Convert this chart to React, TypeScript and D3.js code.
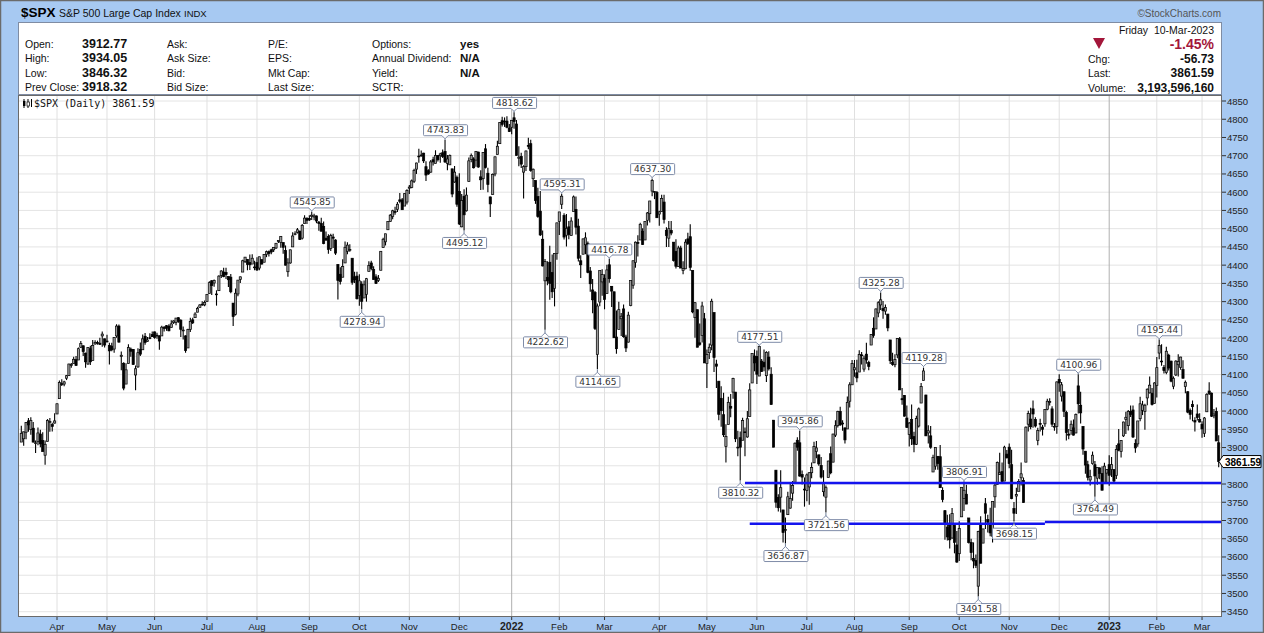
import React from "react";
import * as d3 from "d3";

// ---------------- DATA ----------------
const firstDay = "2021-03-11";
const lastDay = "2023-03-10";
const closedDays = [
  "2021-04-02", "2021-05-31", "2021-07-05", "2021-09-06", "2021-11-25", "2021-12-24",
  "2022-01-17", "2022-02-21", "2022-04-15", "2022-05-30", "2022-06-20", "2022-07-04",
  "2022-09-05", "2022-11-24", "2022-12-26", "2023-01-02", "2023-01-16", "2023-02-20",
];

const opens = [
  3915,3924,3942,3973,3949,3953,3913,3916,3937,3919,3879,3917,3969,3963,3967,
  3992,4034,4075,4074,4090,4097,4125,4130,4141,4140,4175,4179,4159,4129,4171,4139,4184,4188,4186,4206,4198,
  4191,4180,4178,4170,4206,4233,4150,4131,4074,4130,4170,4169,4099,4121,4169,4168,4205,4191,4201,4210,
  4217,4207,4206,4206,4229,4234,4233,4229,4243,4243,4256,4249,4220,4206,4173,4224,4250,4256,4271,4284,4293,4291,
  4300,4322,4357,4351,4321,4330,4372,4381,4380,4369,4367,4296,4265,4321,4361,4381,4410,4416,4407,4403,4395,
  4407,4392,4415,4408,4429,4437,4442,4442,4447,4465,4462,4462,4440,4382,4406,4450,4484,4490,4493,4474,4514,4528,
  4528,4534,4532,4535,4518,4514,4506,4474,4479,4446,4477,4469,4402,4375,4367,4406,4438,4442,4419,4368,4370,
  4317,4348,4310,4320,4383,4406,4388,4368,4358,4386,4448,4464,4497,4520,4533,4547,4553,4579,4579,4562,4573,
  4611,4613,4630,4663,4699,4701,4707,4670,4659,4655,4689,4679,4701,4700,4708,4712,4679,4675,4664,4628,4641,
  4602,4505,4589,4549,4629,4690,4691,4688,4710,4642,4637,4719,4652,4587,4594,4650,4703,4733,4796,4795,4795,4776,
  4778,4804,4787,4693,4698,4655,4670,4728,4733,4637,4632,4588,4548,4471,4357,4366,4408,4380,4336,4432,
  4520,4567,4536,4482,4505,4481,4547,4553,4507,4412,4430,4456,4460,4384,4332,4325,4155,4299,4354,
  4364,4322,4401,4342,4327,4203,4224,4253,4280,4203,4189,4289,4345,4407,4462,4469,4493,4469,4523,4541,4603,4600,4599,
  4540,4547,4573,4495,4474,4495,4463,4438,4396,4447,4385,4390,4472,4478,4385,4256,4278,4187,4207,4253,
  4130,4160,4181,4270,4129,4082,4035,3990,3903,3963,4013,4052,4052,3900,3927,3920,3943,3929,3985,4077,4151,
  4150,4096,4137,4134,4097,4148,4101,3975,3838,3763,3764,3729,3675,3716,3734,3775,3805,3920,3913,3826,3786,
  3782,3792,3831,3858,3889,3880,3851,3779,3764,3818,3883,3860,3934,3960,3999,3965,3954,3951,4027,4072,
  4113,4105,4107,4154,4115,4156,4133,4181,4227,4225,4269,4291,4281,4274,4266,4195,4134,4127,4154,4198,4034,4043,3981,
  3936,3977,3930,3909,3959,4022,4084,4044,3940,3932,3833,3849,3876,3875,3782,3727,3682,3686,3652,3687,3633,
  3609,3710,3760,3772,3707,3640,3596,3590,3520,3690,3638,3746,3703,3689,3657,3765,3799,3826,3834,3808,3882,
  3901,3853,3733,3767,3780,3817,3810,3860,3964,3978,4006,3977,3919,3966,3956,3965,4005,4024,4006,3957,3958,
  4087,4041,4053,3996,3937,3947,3954,3940,4069,4016,3958,3890,3853,3811,3856,3853,3816,3844,3829,3805,3830,
  3853,3840,3840,3823,3910,3889,3932,3977,3960,3999,4003,3911,3910,3979,4002,3999,4036,4050,4049,4021,
  4070,4159,4137,4120,4106,4153,4137,4068,4099,4127,4120,4114,4067,4053,4002,4018,3974,3992,3977,
  3964,3939,3998,4055,4049,3987,3999,3913,
];

const highs = [
  3960,3944,3970,3981,3983,3970,3919,3955,3949,3942,3919,3978,3981,3968,3994,
  4021,4084,4087,4083,4099,4130,4132,4149,4151,4174,4192,4180,4160,4175,4179,4195,4194,4193,4201,4218,4199,
  4209,4187,4187,4202,4238,4237,4163,4134,4131,4183,4174,4170,4125,4172,4188,4210,4214,4203,4213,4218,
  4218,4215,4208,4234,4233,4236,4238,4249,4249,4255,4257,4252,4232,4208,4226,4256,4256,4271,4286,4293,4301,4303,
  4320,4356,4359,4361,4331,4372,4386,4393,4393,4369,4376,4296,4336,4359,4369,4415,4422,4416,4429,4430,4412,
  4422,4423,4416,4430,4440,4440,4445,4449,4461,4468,4480,4462,4454,4419,4443,4490,4493,4502,4495,4513,4537,4531,
  4537,4546,4541,4536,4521,4530,4520,4492,4485,4486,4486,4471,4402,4394,4416,4465,4463,4457,4419,4382,4382,
  4375,4356,4358,4365,4411,4412,4397,4375,4373,4439,4475,4486,4520,4540,4552,4560,4573,4598,4584,4597,4608,
  4620,4635,4664,4681,4719,4714,4708,4685,4663,4688,4697,4715,4702,4708,4717,4744,4702,4703,4664,4672,4646,
  4652,4595,4608,4613,4695,4706,4696,4713,4711,4660,4710,4732,4667,4588,4651,4698,4741,4792,4807,4805,4808,4787,
  4797,4819,4798,4726,4708,4674,4714,4749,4744,4665,4632,4612,4603,4495,4417,4411,4453,4429,4433,4516,
  4546,4595,4542,4540,4521,4531,4591,4588,4527,4427,4473,4490,4465,4395,4362,4329,4295,4385,4389,
  4375,4401,4417,4343,4327,4276,4300,4269,4292,4209,4272,4358,4413,4465,4482,4516,4501,4520,4546,4576,4637,4603,4603,
  4549,4593,4593,4504,4521,4521,4463,4471,4453,4453,4411,4471,4489,4512,4386,4299,4278,4240,4300,4269,
  4169,4185,4308,4270,4141,4082,4068,4050,3964,4039,4047,4091,4052,3946,3944,3982,3955,4000,4076,4158,4169,
  4166,4178,4143,4169,4164,4164,4120,3975,3838,3772,3838,3729,3708,3779,3801,3808,3914,3928,3946,3837,3818,
  3829,3832,3859,3916,3918,3880,3874,3838,3796,3864,3903,3938,3975,4001,4012,3975,3954,4040,4079,4140,
  4140,4141,4167,4162,4152,4187,4138,4211,4257,4281,4301,4325,4302,4292,4266,4195,4160,4156,4200,4203,4063,4044,4015,
  3970,4018,3943,3987,4010,4077,4119,4045,3961,3959,3880,3900,3877,3907,3791,3728,3716,3717,3734,3687,3671,
  3698,3791,3807,3798,3707,3650,3640,3607,3672,3712,3677,3762,3716,3735,3752,3800,3862,3886,3859,3905,3893,
  3911,3894,3751,3790,3814,3859,3818,3958,4001,4009,4029,3983,3954,3979,3962,4005,4034,4035,4013,3967,4081,
  4101,4080,4053,4001,3951,3974,3977,3993,4101,4053,3958,3890,3864,3839,3889,3863,3846,3846,3849,3858,3840,
  3879,3874,3840,3907,3951,3920,3971,3998,4003,4015,4015,3923,3973,4039,4028,4020,4062,4095,4063,4079,
  4148,4196,4183,4126,4176,4157,4138,4095,4139,4156,4149,4139,4084,4054,4007,4029,3983,4018,3994,
  3972,3984,4049,4079,4051,4006,4010,3934,
];

const lows = [
  3915,3905,3923,3943,3935,3914,3885,3906,3901,3889,3853,3917,3943,3944,3966,
  3992,4034,4069,4068,4085,4096,4119,4130,4124,4140,4173,4151,4119,4127,4126,4139,4182,4182,4181,4176,4174,
  4188,4128,4164,4160,4201,4188,4112,4057,4074,4130,4149,4126,4057,4119,4151,4168,4182,4190,4197,4203,
  4198,4198,4168,4206,4218,4220,4219,4229,4239,4235,4242,4203,4196,4160,4173,4217,4239,4256,4271,4284,4289,4287,
  4300,4322,4318,4341,4289,4330,4365,4367,4362,4340,4323,4233,4262,4315,4351,4381,4406,4386,4387,4403,4386,
  4384,4386,4402,4408,4422,4424,4430,4436,4444,4461,4448,4431,4399,4368,4404,4450,4482,4487,4469,4470,4514,4513,
  4521,4524,4523,4515,4494,4493,4457,4466,4431,4439,4447,4428,4306,4347,4367,4406,4430,4437,4346,4351,4306,
  4289,4279,4310,4300,4383,4386,4360,4348,4354,4386,4448,4454,4497,4519,4526,4538,4546,4570,4552,4562,4566,
  4595,4611,4625,4650,4681,4697,4680,4631,4648,4653,4673,4679,4684,4681,4694,4680,4660,4675,4586,4626,4560,
  4510,4504,4495,4547,4629,4682,4665,4670,4667,4606,4607,4665,4600,4532,4594,4644,4703,4733,4780,4779,4775,4765,
  4759,4774,4700,4671,4666,4583,4658,4718,4656,4614,4568,4530,4480,4396,4223,4345,4305,4310,4287,4415,
  4483,4554,4470,4451,4471,4481,4547,4484,4410,4365,4430,4430,4378,4327,4268,4222,4115,4287,4316,
  4279,4322,4352,4285,4200,4157,4224,4206,4201,4162,4188,4287,4335,4393,4424,4469,4455,4469,4509,4517,4589,4581,4530,
  4508,4547,4514,4450,4450,4482,4410,4391,4395,4392,4375,4389,4455,4385,4268,4201,4175,4179,4188,4132,
  4063,4143,4167,4107,4063,3975,3957,3929,3859,3963,3983,4034,3915,3876,3810,3920,3876,3927,3985,4077,4109,
  4074,4096,4107,4109,4080,4111,4017,3901,3735,3725,3722,3640,3637,3716,3732,3754,3805,3891,3820,3799,3738,
  3753,3743,3816,3858,3871,3850,3815,3766,3722,3818,3827,3860,3929,3955,3960,3946,3911,3951,4010,4079,
  4094,4079,4107,4128,4108,4130,4112,4181,4201,4225,4257,4277,4253,4264,4219,4129,4124,4120,4145,4058,4017,3985,3954,
  3903,3907,3887,3907,3955,4022,4084,3932,3911,3897,3838,3839,3839,3790,3750,3647,3645,3623,3650,3610,3584,
  3589,3710,3726,3745,3637,3591,3569,3570,3492,3582,3638,3677,3667,3657,3640,3735,3799,3825,3803,3808,3870,
  3843,3758,3698,3718,3780,3796,3749,3860,3944,3950,3954,3955,3906,3944,3933,3957,4002,4015,3956,3946,3938,
  4053,4026,3984,3919,3923,3935,3933,3939,3993,3966,3880,3828,3810,3796,3853,3765,3798,3813,3783,3805,3801,
  3795,3819,3803,3814,3890,3873,3929,3937,3947,3984,3926,3886,3902,3972,3989,3949,4016,4048,4015,4021,
  4037,4142,4124,4103,4101,4111,4079,4060,4096,4095,4113,4089,4049,3994,3977,3972,3944,3974,3969,
  3927,3929,3998,4044,3984,3980,3918,3846,
];

const closes = [
  3939,3943,3969,3962,3974,3915,3913,3940,3910,3889,3909,3974,3971,3958,3973,
  4020,4078,4074,4080,4097,4129,4128,4142,4125,4171,4185,4163,4135,4174,4135,4180,4188,4187,4183,4211,4181,
  4192,4165,4168,4202,4233,4189,4153,4063,4113,4174,4164,4128,4116,4160,4156,4198,4188,4195,4200,4204,
  4202,4208,4192,4230,4227,4227,4220,4239,4247,4255,4246,4224,4222,4166,4224,4246,4242,4266,4281,4291,4291,4298,
  4320,4352,4344,4358,4320,4370,4384,4369,4374,4360,4327,4259,4323,4359,4368,4412,4422,4402,4401,4419,4395,
  4387,4423,4403,4429,4437,4432,4436,4448,4460,4468,4479,4449,4400,4406,4442,4480,4486,4497,4470,4509,4529,4523,
  4524,4537,4535,4521,4514,4493,4459,4469,4443,4481,4474,4433,4358,4355,4396,4449,4455,4443,4353,4360,4308,
  4357,4301,4346,4363,4399,4391,4361,4350,4364,4438,4471,4486,4520,4537,4549,4545,4567,4575,4552,4596,4605,
  4614,4631,4660,4680,4697,4702,4686,4647,4650,4683,4683,4701,4689,4705,4698,4683,4691,4701,4595,4655,4567,
  4513,4577,4538,4592,4686,4701,4667,4712,4669,4634,4709,4668,4621,4568,4649,4697,4726,4791,4786,4793,4778,4766,
  4797,4794,4701,4696,4677,4670,4713,4726,4660,4663,4577,4533,4483,4398,4410,4357,4350,4327,4432,4516,
  4546,4589,4477,4501,4484,4521,4587,4504,4419,4401,4472,4475,4380,4349,4305,4226,4288,4385,4374,
  4306,4387,4363,4329,4201,4171,4278,4260,4204,4173,4263,4358,4412,4463,4461,4512,4457,4520,4543,4576,4632,4602,4530,
  4546,4583,4525,4481,4500,4488,4413,4397,4447,4392,4391,4463,4459,4394,4272,4297,4175,4183,4288,4132,
  4155,4175,4301,4147,4123,3991,4001,3935,3930,4024,4008,4089,3924,3901,3901,3974,3941,3979,4058,4158,4132,
  4101,4177,4109,4121,4161,4116,4018,3901,3750,3735,3790,3667,3675,3765,3760,3796,3912,3901,3822,3819,3785,
  3825,3831,3845,3903,3899,3855,3819,3801,3790,3863,3831,3937,3960,3999,3962,3967,3921,4024,4072,4130,
  4119,4091,4155,4152,4145,4140,4122,4210,4207,4280,4297,4305,4275,4284,4228,4138,4128,4141,4199,4058,4031,3986,3955,
  3967,3924,3909,3980,4006,4067,4110,3932,3946,3901,3873,3900,3856,3790,3758,3693,3655,3647,3719,3640,3586,
  3678,3791,3783,3745,3640,3612,3589,3577,3670,3583,3677,3720,3695,3666,3752,3797,3859,3831,3807,3901,3872,
  3856,3760,3720,3771,3807,3828,3749,3956,3993,3957,3992,3959,3947,3965,3950,4004,4027,4026,3964,3958,4080,
  4077,4072,3999,3941,3934,3964,3934,3991,4020,3995,3896,3852,3818,3821,3879,3822,3845,3829,3783,3849,3840,
  3824,3853,3808,3895,3893,3919,3970,3983,3999,3991,3929,3899,3973,4020,4017,4016,4060,4071,4018,4077,
  4119,4180,4136,4111,4164,4118,4082,4090,4137,4136,4148,4090,4079,3997,3991,4012,3970,3982,3970,
  3951,3981,4046,4048,3986,3992,3918,3861.59,
];

// labelled highs / lows
const annDates = [
  "2021-09-02", "2021-10-04", "2021-11-22", "2021-12-03", "2022-01-04", "2022-01-24",
  "2022-02-02", "2022-02-24", "2022-03-03", "2022-03-29", "2022-05-20", "2022-06-02",
  "2022-06-17", "2022-06-28", "2022-07-14", "2022-08-16", "2022-09-12", "2022-10-05",
  "2022-10-13", "2022-11-03", "2022-12-13", "2022-12-22", "2023-02-02",
];
const annValues = [
  4545.85, 4278.94, 4743.83, 4495.12, 4818.62, 4222.62,
  4595.31, 4114.65, 4416.78, 4637.30, 3810.32, 4177.51,
  3636.87, 3945.86, 3721.56, 4325.28, 4119.28, 3806.91,
  3491.58, 3698.15, 4100.96, 3764.49, 4195.44,
];
const annSides = [
  "high", "low", "high", "low", "high", "low",
  "high", "low", "high", "high", "low", "high",
  "low", "high", "low", "high", "high", "high",
  "low", "low", "high", "low", "high",
];

// hand-drawn horizontal lines (start date, end date or null = right edge, level)
const lineStarts = ["2022-05-24", "2022-05-26", "2022-11-22"];
const lineEnds: (string | null)[] = [null, "2022-11-22", null];
const lineLevels = [3803, 3691, 3696];

const yTicks = d3.range(3450, 4851, 50);
const monthNames = ["Jan", "Feb", "Mar", "Apr", "May", "Jun", "Jul", "Aug", "Sep", "Oct", "Nov", "Dec"];

const headerLeftLabels = ["Open:", "High:", "Low:", "Prev Close:"];
const headerLeftValues = ["3912.77", "3934.05", "3846.32", "3918.32"];
const headerCol2 = ["Ask:", "Ask Size:", "Bid:", "Bid Size:"];
const headerCol3 = ["P/E:", "EPS:", "Mkt Cap:", "Last Size:"];
const headerCol4 = ["Options:", "Annual Dividend:", "Yield:", "SCTR:"];
const headerCol4Values = ["yes", "N/A", "N/A", ""];
const rightLabels = ["Chg:", "Last:", "Volume:"];
const rightValues = ["-56.73", "3861.59", "3,193,596,160"];

// ---------------- HELPERS ----------------
function tradingDays(start: string, end: string, closed: string[]) {
  const out: string[] = [];
  const set = new Set(closed);
  const d = new Date(start + "T00:00:00Z");
  const e = new Date(end + "T00:00:00Z");
  while (d <= e) {
    const wd = d.getUTCDay();
    const s = d.toISOString().slice(0, 10);
    if (wd !== 0 && wd !== 6 && !set.has(s)) out.push(s);
    d.setUTCDate(d.getUTCDate() + 1);
  }
  return out;
}

const W = 1264;
const H = 633;
const PL = 18;
const PR = 1222;
const PT = 95;
const PB = 617;
const BLUE_BG = "#a7c9f2";
const SANS = "'Liberation Sans', Arial, sans-serif";
const DV = "'DejaVu Sans', Verdana, sans-serif";
const MONO = "'DejaVu Sans Mono', monospace";

export default function App() {
  const dates = tradingDays(firstDay, lastDay, closedDays);
  const n = Math.min(dates.length, opens.length, highs.length, lows.length, closes.length);
  const x = d3.scalePoint<string>().domain(dates).range([21.3, 1218.7]);
  const y = d3.scaleLinear().domain([3450, 4850]).range([611.7, 101]);

  const monthStarts: { date: string; label: string; year: boolean }[] = [];
  for (let i = 1; i < dates.length; i++) {
    if (dates[i].slice(0, 7) !== dates[i - 1].slice(0, 7)) {
      const m = +dates[i].slice(5, 7) - 1;
      monthStarts.push({
        date: dates[i],
        label: m === 0 ? dates[i].slice(0, 4) : monthNames[m],
        year: m === 0,
      });
    }
  }

  const bars = d3.range(n).map((i) => {
    const cx = x(dates[i]) as number;
    const o = opens[i], c = closes[i];
    const hi = Math.max(highs[i], o, c);
    const lo = Math.min(lows[i], o, c);
    const yTop = y(Math.max(o, c));
    const yBot = y(Math.min(o, c));
    const up = c >= o;
    return (
      <g key={i}>
        <line x1={cx} x2={cx} y1={y(hi)} y2={y(lo)} stroke="#000" strokeWidth={1.1} />
        <rect
          x={cx - 1.1}
          width={2.2}
          y={yTop}
          height={Math.max(yBot - yTop, 0.8)}
          fill={up ? "#9a9a9a" : "#000"}
          stroke="#000"
          strokeWidth={0.7}
        />
      </g>
    );
  });

  const lastY = y(closes[closes.length - 1]);

  return (
    <svg
      width={W}
      height={H}
      viewBox={`0 0 ${W} ${H}`}
      style={{ position: "absolute", left: 0, top: 0, display: "block" }}
      xmlns="http://www.w3.org/2000/svg"
    >
      {/* background */}
      <rect x={0} y={0} width={W} height={H} fill={BLUE_BG} />
      <rect x={0.5} y={0.5} width={W - 1} height={H - 1} fill="none" stroke="#6b6b6b" strokeWidth={1.5} />

      {/* title bar */}
      <text x={21} y={17} fontFamily={SANS} fontWeight="bold" fontSize={13.5} fill="#000">$SPX</text>
      <text x={59} y={16.5} fontFamily={SANS} fontSize={10.5} fill="#111">S&amp;P 500 Large Cap Index</text>
      <text x={184} y={16.5} fontFamily={SANS} fontSize={9.5} fill="#111">INDX</text>
      <text x={1221} y={17} textAnchor="end" fontFamily={SANS} fontSize={10} fill="#555">©StockCharts.com</text>

      {/* header panel */}
      <rect x={PL + 0.5} y={22.5} width={PR - PL - 1} height={72} fill="#fff" stroke="#7f8ca3" strokeWidth={1} />
      {headerLeftLabels.map((t, i) => (
        <g key={"hl" + i} fontFamily={SANS} dominantBaseline="central">
          <text x={25} y={43.5 + i * 14.6} fontSize={10.5} fill="#111">{t}</text>
          <text x={82} y={43.5 + i * 14.6} fontSize={12.5} fontWeight="bold" fill="#111">{headerLeftValues[i]}</text>
          <text x={167} y={43.5 + i * 14.6} fontSize={10.5} fill="#111">{headerCol2[i]}</text>
          <text x={268} y={43.5 + i * 14.6} fontSize={10.5} fill="#111">{headerCol3[i]}</text>
          <text x={372} y={43.5 + i * 14.6} fontSize={10.5} fill="#111">{headerCol4[i]}</text>
          <text x={460} y={43.5 + i * 14.6} fontSize={11.5} fontWeight="bold" fill="#111">{headerCol4Values[i]}</text>
        </g>
      ))}
      <text x={1214} y={29.5} textAnchor="end" dominantBaseline="central" fontFamily={SANS} fontSize={10.5} fill="#111" xmlSpace="preserve">
        Friday  10-Mar-2023
      </text>
      <path d="M1093,38 L1105,38 L1099,49 Z" fill="#a3163a" />
      <text x={1214} y={43.5} textAnchor="end" dominantBaseline="central" fontFamily={SANS} fontSize={14} fontWeight="bold" fill="#a3163a">
        -1.45%
      </text>
      {rightLabels.map((t, i) => (
        <g key={"rl" + i} fontFamily={SANS} dominantBaseline="central">
          <text x={1088} y={58.5 + i * 14.6} fontSize={10.5} fill="#111">{t}</text>
          <text x={1214} y={58.5 + i * 14.6} textAnchor="end" fontSize={12} fontWeight="bold" fill="#111">{rightValues[i]}</text>
        </g>
      ))}

      {/* plot area */}
      <rect x={PL} y={PT} width={PR - PL} height={PB - PT} fill="#fff" />
      <g>
        {yTicks.map((v) => (
          <line key={"gy" + v} x1={PL} x2={PR} y1={y(v)} y2={y(v)} stroke="#e4e4e4" strokeWidth={1} />
        ))}
        {monthStarts.map((m) => (
          <line
            key={"gx" + m.date}
            x1={x(m.date)}
            x2={x(m.date)}
            y1={PT}
            y2={PB}
            stroke={m.year ? "#b0b0b0" : "#e0e0e0"}
            strokeWidth={1}
          />
        ))}
      </g>

      {/* legend */}
      <g>
        <line x1={24} x2={24} y1={99} y2={108} stroke="#000" strokeWidth={1} />
        <rect x={23} y={101} width={2.4} height={5} fill="#000" />
        <line x1={28} x2={28} y1={99} y2={108} stroke="#000" strokeWidth={1} />
        <rect x={27} y={102} width={2.4} height={4} fill="#fff" stroke="#000" strokeWidth={0.7} />
        <line x1={31.5} x2={31.5} y1={99} y2={107} stroke="#000" strokeWidth={1} />
        <text x={34} y={103} dominantBaseline="central" fontFamily={MONO} fontSize={10} fill="#111">
          $SPX (Daily) 3861.59
        </text>
      </g>

      {/* candles */}
      <g>{bars}</g>

      {/* horizontal lines */}
      {lineStarts.map((s, i) => {
        const x1 = x(s) as number;
        const e = lineEnds[i];
        const x2 = e ? (x(e) as number) : PR;
        return (
          <line key={"hl" + i} x1={x1} x2={x2} y1={y(lineLevels[i])} y2={y(lineLevels[i])} stroke="#1414ee" strokeWidth={2.6} />
        );
      })}

      {/* annotations */}
      {annDates.map((d, i) => {
        const cx = x(d) as number;
        const py = y(annValues[i]);
        const above = annSides[i] === "high";
        const bw = 44;
        const bh = 11;
        const cy = above ? py - 10 : py + 12;
        const top = cy - bh / 2;
        const bot = cy + bh / 2;
        const edge = above ? bot : top;
        const dir = above ? 1 : -1;
        return (
          <g key={"ann" + i}>
            <line x1={cx} x2={cx} y1={edge} y2={py} stroke="#6f7f99" strokeWidth={1} />
            <rect x={cx - bw / 2 + 0.5} y={top + 0.5} width={bw} height={bh} fill="#fff" stroke="#7f8ca8" strokeWidth={1} rx={1} />
            <path
              d={`M${cx - 3.5},${edge} L${cx},${edge + dir * 3.5} L${cx + 3.5},${edge}`}
              fill="#fff"
              stroke="#7f8ca8"
              strokeWidth={1}
            />
            <line x1={cx - 2.8} x2={cx + 2.8} y1={edge} y2={edge} stroke="#fff" strokeWidth={1.2} />
            <text
              x={cx + 0.5}
              y={cy + 0.5}
              textAnchor="middle"
              dominantBaseline="central"
              fontFamily={DV}
              fontSize={9}
              fill="#333"
            >
              {annValues[i].toFixed(2)}
            </text>
          </g>
        );
      })}

      {/* plot border */}
      <rect x={PL + 0.5} y={PT + 0.5} width={PR - PL - 1} height={PB - PT - 1} fill="none" stroke="#6a6a6a" strokeWidth={1} />

      {/* right axis (label hidden where the last-value tag covers it) */}
      {yTicks.map((v) => (
        <g key={"yt" + v}>
          <line x1={PR} x2={PR + 4} y1={y(v)} y2={y(v)} stroke="#333" strokeWidth={1} />
          {Math.abs(y(v) - lastY) > 9 && (
            <text x={PR + 5} y={y(v)} dominantBaseline="central" fontFamily={SANS} fontSize={9.5} fill="#222">
              {v}
            </text>
          )}
        </g>
      ))}
      {/* last value tag */}
      <g>
        <path
          d={`M${PR - 3},${lastY} L${PR + 1},${lastY - 6} L${W - 3},${lastY - 6} L${W - 3},${lastY + 6} L${PR + 1},${lastY + 6} Z`}
          fill="#fff"
          stroke="#000"
          strokeWidth={1}
        />
        <text x={PR + 3} y={lastY + 0.5} dominantBaseline="central" fontFamily={SANS} fontSize={10} fontWeight="bold" fill="#000">
          3861.59
        </text>
      </g>

      {/* bottom axis */}
      {monthStarts.map((m) => (
        <g key={"xt" + m.date}>
          <line x1={x(m.date)} x2={x(m.date)} y1={PB} y2={PB + 3} stroke="#333" strokeWidth={1} />
          <text
            x={x(m.date)}
            y={626}
            textAnchor="middle"
            dominantBaseline="central"
            fontFamily={SANS}
            fontSize={m.year ? 10.5 : 9.5}
            fontWeight={m.year ? "bold" : "normal"}
            fill="#222"
          >
            {m.label}
          </text>
        </g>
      ))}
    </svg>
  );
}
